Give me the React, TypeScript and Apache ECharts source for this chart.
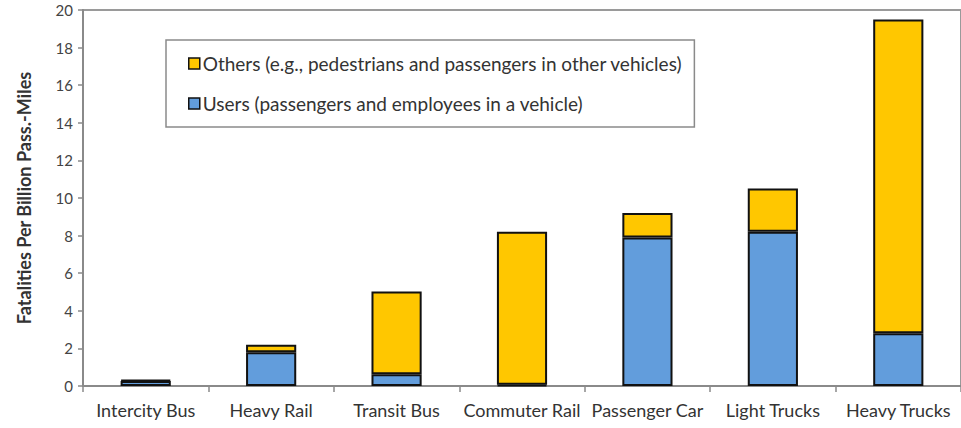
import React, { useEffect, useRef } from "react";
import * as echarts from "echarts";

const categories = [
  "Intercity Bus",
  "Heavy Rail",
  "Transit Bus",
  "Commuter Rail",
  "Passenger Car",
  "Light Trucks",
  "Heavy Trucks",
];
const usersValues = [0.27, 1.8, 0.62, 0.06, 7.9, 8.2, 2.8];
const othersValues = [0.05, 0.4, 4.4, 8.14, 1.3, 2.3, 16.7];
const usersName = "Users (passengers and employees in a vehicle)";
const othersName = "Others (e.g., pedestrians and passengers in other vehicles)";
const yAxisTitle = "Fatalities Per Billion Pass.-Miles";

const FONT = "Lato, 'Open Sans', sans-serif";

export default function App() {
  const ref = useRef<HTMLDivElement>(null);
  useEffect(() => {
    if (!ref.current) return;
    const chart = echarts.init(ref.current, undefined, { renderer: "svg" });
    chart.setOption({
      animation: false,
      backgroundColor: "#ffffff",
      textStyle: { fontFamily: FONT },
      grid: {
        left: 83,
        right: -2,
        top: 10,
        bottom: 42,
        show: true,
        borderColor: "#9a9a9a",
        borderWidth: 2,
      },
      legend: {
        orient: "vertical",
        left: 166,
        top: 40,
        data: [othersName, usersName],
        itemWidth: 11,
        itemHeight: 11,
        itemGap: 21,
        padding: [14, 12, 14, 22],
        borderColor: "#8a8a8a",
        borderWidth: 1.5,
        backgroundColor: "#ffffff",
        textStyle: { fontSize: 19, color: "#333", fontFamily: FONT, padding: [0, 0, 0, -2] },
        icon: "rect",
        itemStyle: { borderColor: "#111", borderWidth: 1.5 },
      },
      xAxis: {
        type: "category",
        data: categories,
        axisLine: { lineStyle: { color: "#8a8a8a", width: 2 } },
        axisTick: { show: true, length: 6, alignWithLabel: false, lineStyle: { color: "#8a8a8a", width: 1.5 } },
        axisLabel: { interval: 0, fontSize: 18, color: "#333", margin: 15, fontFamily: FONT },
      },
      yAxis: {
        type: "value",
        min: 0,
        max: 20,
        interval: 2,
        name: yAxisTitle,
        nameLocation: "middle",
        nameGap: 50,
        nameTextStyle: { fontSize: 18, fontWeight: "bold", color: "#333", fontFamily: FONT },
        axisLine: { show: true, lineStyle: { color: "#8a8a8a", width: 2 } },
        axisTick: { show: true, length: 5, lineStyle: { color: "#8a8a8a", width: 1.5 } },
        axisLabel: { fontSize: 15, color: "#444", margin: 10, fontFamily: FONT },
        splitLine: { show: false },
      },
      series: [
        {
          name: usersName,
          type: "bar",
          stack: "total",
          data: usersValues,
          barWidth: "40%",
          itemStyle: { color: "#629ddc", borderColor: "#111", borderWidth: 2 },
        },
        {
          name: othersName,
          type: "bar",
          stack: "total",
          data: othersValues,
          barWidth: "40%",
          itemStyle: { color: "#ffc700", borderColor: "#111", borderWidth: 2 },
        },
      ],
    });
    return () => chart.dispose();
  }, []);
  return (
    <div
      ref={ref}
      style={{ position: "fixed", left: 0, top: 0, width: 961, height: 428 }}
    />
  );
}
